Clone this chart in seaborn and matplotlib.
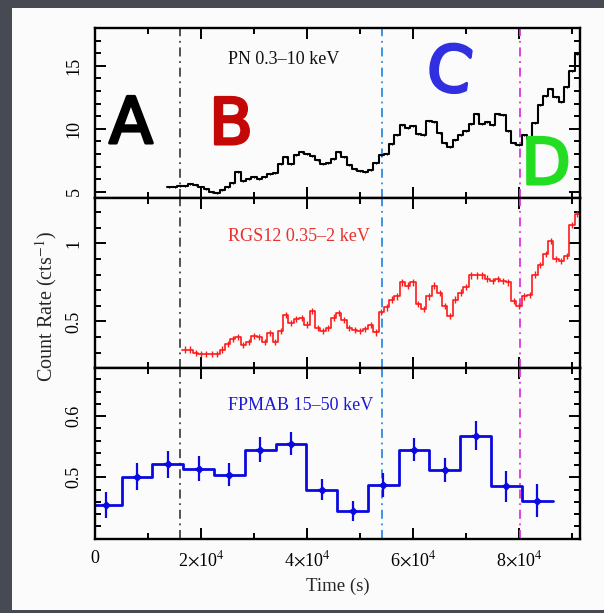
import numpy as np
import pandas as pd
import matplotlib
matplotlib.use("Agg")
import matplotlib.pyplot as plt
import matplotlib.patheffects as pe
import seaborn as sns
from matplotlib.patches import Rectangle
from matplotlib.ticker import MultipleLocator

# ---------------- light-curve data ----------------
# EPIC-pn 0.3-10 keV, 1 ks bins starting at 13.5 ks
pn_start = 13500
pn_bin = 1000
pn_rate = [5.4, 5.4, 5.45, 5.5, 5.6, 5.55, 5.4, 5.2, 5.0, 4.95,
           5.15, 5.4, 5.7, 6.6, 5.85, 6.0, 6.15, 6.0, 6.2, 6.45,
           6.5, 7.2, 7.8, 7.2, 7.9, 8.2, 8.0, 7.85, 7.5, 7.25,
           7.3, 7.6, 8.2, 7.8, 7.1, 6.8, 6.65, 6.6, 6.75, 7.3,
           7.9, 8.0, 8.8, 9.5, 10.3, 10.05, 10.2, 9.6, 9.5, 10.6,
           10.55, 9.7, 8.9, 8.6, 9.1, 9.5, 9.8, 10.4, 11.2, 10.4,
           10.55, 10.3, 11.2, 11.1, 9.8, 8.85, 8.75, 9.5, 9.2, 10.5,
           11.9, 12.6, 13.2, 12.5, 12.1, 13.3, 14.6, 15.9]
pn_err = 0.08

# RGS1+2 0.35-2 keV, 1 ks bins starting at 16.5 ks
rgs_start = 16500
rgs_bin = 1000
rgs_rate = [0.32, 0.32, 0.30, 0.29, 0.29, 0.29, 0.29, 0.32, 0.355, 0.39,
            0.40, 0.35, 0.37, 0.405, 0.40, 0.37, 0.425, 0.37, 0.44, 0.54,
            0.49, 0.515, 0.52, 0.48, 0.565, 0.46, 0.44, 0.46, 0.525, 0.555,
            0.51, 0.46, 0.445, 0.44, 0.45, 0.475, 0.43, 0.56, 0.59, 0.64,
            0.66, 0.75, 0.73, 0.75, 0.61, 0.58, 0.66, 0.73, 0.68, 0.60,
            0.535, 0.64, 0.685, 0.72, 0.795, 0.795, 0.795, 0.775, 0.76, 0.77,
            0.76, 0.75, 0.63, 0.60, 0.66, 0.67, 0.80, 0.86, 0.93, 1.015,
            0.90, 0.885, 0.92, 1.12, 1.19]
rgs_err = 0.02

# NuSTAR FPMA+B 15-50 keV, 5.81 ks bins
fpm_bin = 5810
fpm_time = [2100, 7910, 13720, 19530, 25340, 31150, 36960, 42770,
            48580, 54390, 60200, 66010, 71820, 77630, 83440]
fpm_rate = [0.455, 0.501, 0.521, 0.514, 0.504, 0.545, 0.555, 0.480,
            0.445, 0.487, 0.545, 0.512, 0.568, 0.485, 0.462]
fpm_err = [0.021, 0.022, 0.022, 0.020, 0.019, 0.020, 0.019, 0.017,
           0.017, 0.020, 0.019, 0.019, 0.024, 0.026, 0.027]

# interval boundaries A|B, B|C, C|D
bound_time = [16000, 54100, 80100]
bound_color = ["#454545", "#2f8be0", "#e033e0"]

panel_labels = ["PN 0.3\u201310 keV", "RGS12 0.35\u20132 keV", "FPMAB 15\u201350 keV"]
panel_colors = ["#111111", "#e8302c", "#1a1ad6"]
xtick_vals = [0, 20000, 40000, 60000, 80000]
xtick_text = ["0", r"2$\times$10$^{4}$", r"4$\times$10$^{4}$",
              r"6$\times$10$^{4}$", r"8$\times$10$^{4}$"]

# ---------------- style ----------------
sns.set_theme(style="ticks")
plt.rcParams["font.family"] = ["Liberation Serif", "DejaVu Serif"]
plt.rcParams["mathtext.fontset"] = "stix"
plt.rcParams["lines.scale_dashes"] = True

W, H = 604, 613
fig = plt.figure(figsize=(W / 100, H / 100), dpi=100)
fig.patch.set_facecolor("#474a53")
fig.add_artist(Rectangle((12 / W, 1 - 610 / H), 1 - 12 / W, (610 - 8) / H,
                         transform=fig.transFigure, facecolor="#fbfbfb",
                         edgecolor="none", zorder=-5))

left, width = 95 / W, 485 / W
ph = 170.2 / H
ax_top = fig.add_axes([left, 1 - 198.2 / H, width, ph])
ax_mid = fig.add_axes([left, 1 - 368.3 / H, width, ph])
ax_bot = fig.add_axes([left, 1 - 538.5 / H, width, ph])
axes = [ax_top, ax_mid, ax_bot]


def steps_frame(edges_start, binw, rate):
    n = len(rate)
    edges = edges_start + binw * np.arange(n + 1)
    return pd.DataFrame({"time": edges, "rate": list(rate) + [rate[-1]]})


pn_df = steps_frame(pn_start, pn_bin, pn_rate)
rgs_df = steps_frame(rgs_start, rgs_bin, rgs_rate)
fpm_df = steps_frame(fpm_time[0] - fpm_bin / 2, fpm_bin, fpm_rate)
pn_mid = pn_df["time"].values[:-1] + pn_bin / 2
rgs_mid = rgs_df["time"].values[:-1] + rgs_bin / 2

# PN
sns.lineplot(data=pn_df, x="time", y="rate", drawstyle="steps-post",
             color="black", lw=1.5, estimator=None, sort=False, ax=ax_top)
ax_top.errorbar(pn_mid, pn_rate, yerr=pn_err, fmt="none", ecolor="black",
                elinewidth=0.8)
# RGS
sns.lineplot(data=rgs_df, x="time", y="rate", drawstyle="steps-post",
             color="#ff1a1a", lw=1.2, estimator=None, sort=False, ax=ax_mid)
ax_mid.errorbar(rgs_mid, rgs_rate, yerr=rgs_err, fmt="none", ecolor="#ff1a1a",
                elinewidth=1.0)
# FPMA+B
sns.lineplot(data=fpm_df, x="time", y="rate", drawstyle="steps-post",
             color="#0a0ae0", lw=2.0, estimator=None, sort=False, ax=ax_bot)
ax_bot.errorbar(fpm_time, fpm_rate, yerr=fpm_err, xerr=700, fmt="D",
                ms=3.5, color="#0a0ae0", ecolor="#0a0ae0", elinewidth=1.6)

ylims = [(4.5, 18.0), (0.2, 1.29), (0.40, 0.678)]
ymaj = [[5, 10, 15], [0.5, 1.0], [0.5, 0.6]]
ymaj_txt = [["5", "10", "15"], ["0.5", "1"], ["0.5", "0.6"]]
ymin = [1, 0.1, 0.02]
text_y = [0.812, 0.773, 0.784]

for i, ax in enumerate(axes):
    ax.set_facecolor("#fbfbfb")
    for t, c in zip(bound_time, bound_color):
        ax.axvline(t, color=c, lw=1.3, ls=(0, (5, 2.6, 1, 2.6)), zorder=1)
    ax.set_xlim(0, 91500)
    ax.set_ylim(*ylims[i])
    ax.set_yticks(ymaj[i])
    ax.set_yticklabels(ymaj_txt[i])
    ax.yaxis.set_minor_locator(MultipleLocator(ymin[i]))
    ax.set_xticks(xtick_vals)
    ax.xaxis.set_minor_locator(MultipleLocator(10000))
    ax.tick_params(which="both", direction="in", top=True, right=True,
                   colors="black", width=1.4)
    ax.tick_params(which="major", length=8)
    ax.tick_params(which="minor", length=4.5)
    ax.tick_params(axis="y", labelrotation=90, labelsize=13, pad=9)
    ax.tick_params(axis="x", labelsize=13, pad=8)
    for lab in ax.get_yticklabels():
        lab.set_va("center")
    for s in ax.spines.values():
        s.set_linewidth(1.7)
        s.set_color("black")
    ax.set_xlabel("")
    ax.set_ylabel("")
    ax.text(0.274, text_y[i], panel_labels[i], transform=ax.transAxes,
            color=panel_colors[i], fontsize=13, ha="left", va="center")
    if i < 2:
        ax.set_xticklabels([])

ax_bot.set_xticklabels(xtick_text)
ax_bot.set_xlabel("Time (s)", fontsize=13.5, labelpad=6)

fig.text(46 / W, 1 - 307 / H, r"Count Rate (cts$^{-1}$)", rotation=90,
         ha="center", va="center", fontsize=14.5)

# interval markers, drawn as marker-pen style letters
def hand_letter(x, y, s, color, rot=0):
    t = fig.text(x / W, 1 - y / H, s, color=color, family="DejaVu Sans",
                 weight="normal", fontsize=46, ha="center", va="center",
                 rotation=rot)
    t.set_path_effects([pe.withStroke(linewidth=2.2, foreground=color)])


hand_letter(131, 125, "A", "black")
hand_letter(231, 126, "B", "#c40808")
hand_letter(449, 73, "C", "#3030e0", rot=-8)
hand_letter(546, 166, "D", "#22dd22")

fig.savefig("out.png", dpi=100, facecolor=fig.get_facecolor())
